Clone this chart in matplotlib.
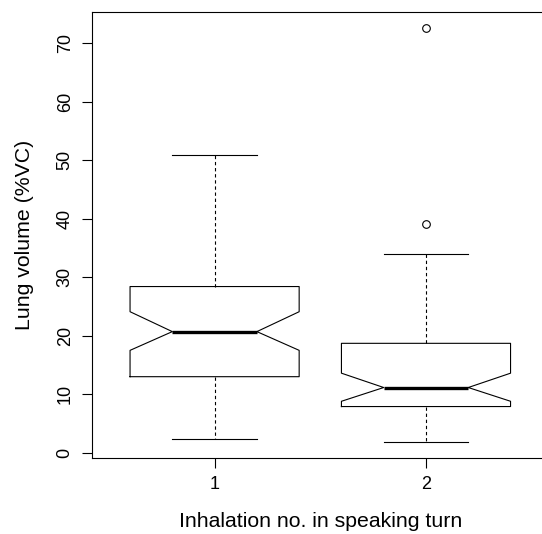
import matplotlib
matplotlib.use("Agg")
import matplotlib.pyplot as plt

# Values (lung volume, %VC)
groups = ["1", "2"]
whisker_low = [2.4, 1.9]
q1 = [13.0, 7.9]
medians = [20.7, 11.15]
q3 = [28.4, 18.7]
whisker_high = [50.8, 34.0]
notch_low = [17.5, 8.8]
notch_high = [24.1, 13.6]
outliers = [[], [39.0, 72.5]]

plt.rcParams['font.family'] = ['Liberation Sans', 'DejaVu Sans']
plt.rcParams['font.size'] = 13

stats = []
for i in range(len(groups)):
    stats.append({
        'label': groups[i],
        'whislo': whisker_low[i],
        'q1': q1[i],
        'med': medians[i],
        'q3': q3[i],
        'whishi': whisker_high[i],
        'cilo': notch_low[i],
        'cihi': notch_high[i],
        'fliers': outliers[i],
    })

fig = plt.figure(figsize=(5.42, 5.34), dpi=100)
ax = fig.add_axes([92 / 542, (534 - 458) / 534, (548.6 - 92) / 542, 446 / 534])

ax.bxp(stats, positions=[1, 2], widths=0.8, shownotches=True,
       boxprops=dict(color='black', linewidth=0.8),
       medianprops=dict(color='black', linewidth=2.4, solid_capstyle='butt'),
       whiskerprops=dict(color='black', linewidth=0.8, linestyle=(0, (3, 2.5))),
       capprops=dict(color='black', linewidth=0.8),
       flierprops=dict(marker='o', markerfacecolor='none', markeredgecolor='black',
                       markersize=5.5, markeredgewidth=0.8))

ax.set_xlim(0.42, 2.58)
ax.set_ylim(-0.89, 75.3)
ax.set_xticks([1, 2])
ax.set_xticklabels(groups)
ax.set_yticks(range(0, 71, 10))

for s in ax.spines.values():
    s.set_linewidth(0.8)

ax.tick_params(axis='both', direction='out', length=7.2, width=0.8, labelsize=13)
ax.tick_params(axis='x', pad=6)
ax.tick_params(axis='y', pad=6, labelrotation=90)
for lab in ax.get_yticklabels():
    lab.set_va('center')

ax.set_xlabel('Inhalation no. in speaking turn', fontsize=15.3)
ax.set_ylabel('Lung volume (%VC)', fontsize=15.3)
ax.xaxis.set_label_coords(0.5, -0.12)
ax.yaxis.set_label_coords(-0.126, 0.5)

fig.savefig('out.png', dpi=100)
